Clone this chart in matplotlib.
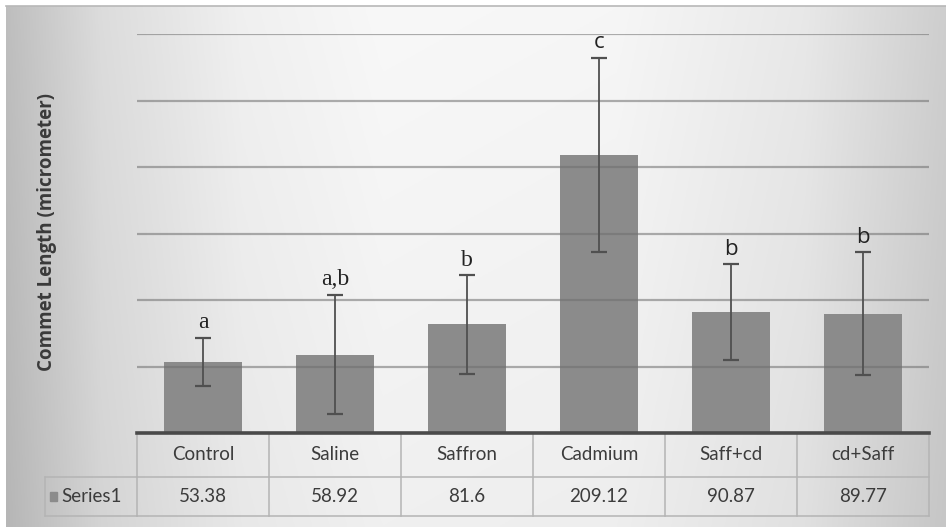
import numpy as np
import matplotlib.pyplot as plt
import matplotlib.transforms as mtransforms
from matplotlib.patches import Rectangle

groups = ['Control', 'Saline', 'Saffron', 'Cadmium', 'Saff+cd', 'cd+Saff']
means = [53.38, 58.92, 81.6, 209.12, 90.87, 89.77]
errors = [18.2, 44.8, 37.0, 73.0, 36.0, 46.0]
letters = ['a', 'a,b', 'b', 'c', 'b', 'b']
letter_fonts = ['Liberation Serif', 'Liberation Serif', 'Liberation Serif',
                'Open Sans', 'Open Sans', 'Open Sans']
series_name = 'Series1'
grid_levels = [50, 100, 150, 200, 250, 300]

fig = plt.figure(figsize=(9.46, 5.27), dpi=100)

# shaded chart-area background
bg = fig.add_axes([6 / 946, 0, 1 - 6 / 946, 1 - 6 / 527])
xs = np.linspace(0, 1, 400)
prof = np.interp(xs, [0, 0.1, 0.25, 0.4, 0.65, 0.85, 1.0],
                 [190, 220, 240, 248, 246, 232, 206])
ys = np.linspace(0, 1, 200)[:, None]
shade = prof[None, :] - 8 * ys
img = np.dstack([shade, shade, shade]) / 255.0
bg.imshow(img, aspect='auto', extent=[0, 1, 0, 1], origin='upper')
bg.set_xlim(0, 1)
bg.set_ylim(0, 1)
bg.axis('off')
fig.add_artist(plt.Line2D([6 / 946, 1], [1 - 6 / 527, 1 - 6 / 527],
                          color='#b8b8b8', lw=1.2))

ax = fig.add_axes([137 / 946, 1 - 433 / 527, 792 / 946, 399 / 527])
ax.patch.set_alpha(0)
x = np.arange(len(groups))
ax.bar(x, means, width=0.59, color='#8b8b8b', zorder=2)
for g in grid_levels:
    ax.axhline(g, color='#6e6e6e', lw=1.6, alpha=0.55, zorder=3)
ax.errorbar(x, means, yerr=errors, fmt='none', ecolor='#505050',
            elinewidth=1.3, capsize=6, capthick=1.6, zorder=4)
for xi, m, e, lab, fam in zip(x, means, errors, letters, letter_fonts):
    size = 17 if fam == 'Liberation Serif' else 16
    ax.annotate(lab, (xi, m + e), xytext=(0, 7), textcoords='offset points',
                ha='center', va='baseline', fontsize=size,
                family=fam, color='#222222', clip_on=False)

ax.set_xlim(-0.5, len(groups) - 0.5)
ax.set_ylim(0, 300)
ax.set_xticks([])
ax.set_yticks([])
for s in ax.spines.values():
    s.set_visible(False)
ax.axhline(0, color='#4a4a4a', lw=2.6, zorder=5, clip_on=False)

fig.text(47 / 946, 1 - 232 / 527, 'Commet Length (micrometer)',
         rotation=90, ha='center', va='center', family='Open Sans',
         fontweight='bold', fontsize=13.5, color='#3a3a3a')

# data table under the axis
tr = mtransforms.blended_transform_factory(ax.transData, ax.transAxes)
r1 = -44 / 399
r2 = -83 / 399
line_kw = dict(color='#b4b4b4', lw=1.1, clip_on=False)
ax.plot([-0.5, len(groups) - 0.5], [r1, r1], transform=tr, **line_kw)
ax.plot([-0.5, len(groups) - 0.5], [r2, r2], transform=tr, **line_kw)
for b in np.arange(-0.5, len(groups), 1.0):
    ax.plot([b, b], [0, r2], transform=tr, **line_kw)
left = (45 - 137) / 792
ax.plot([left, 0], [r1, r1], transform=ax.transAxes, **line_kw)
ax.plot([left, 0], [r2, r2], transform=ax.transAxes, **line_kw)
ax.plot([left, left], [r1, r2], transform=ax.transAxes, **line_kw)

for xi, name, m in zip(x, groups, means):
    ax.text(xi, r1 / 2, name, transform=tr, ha='center', va='center',
            fontsize=13.5, family='Lato', color='#3c3c3c')
    ax.text(xi, (r1 + r2) / 2, f'{m:g}', transform=tr, ha='center',
            va='center', fontsize=13.5, family='Lato', color='#3c3c3c')

ax.add_patch(Rectangle((left + 0.006, (r1 + r2) / 2 - 0.011), 0.0095, 0.022,
                       transform=ax.transAxes, color='#8b8b8b',
                       clip_on=False))
ax.text(left + 0.02, (r1 + r2) / 2, series_name, transform=ax.transAxes,
        ha='left', va='center', fontsize=13.5, family='Lato', color='#3c3c3c')

fig.savefig('out.png', dpi=100)
